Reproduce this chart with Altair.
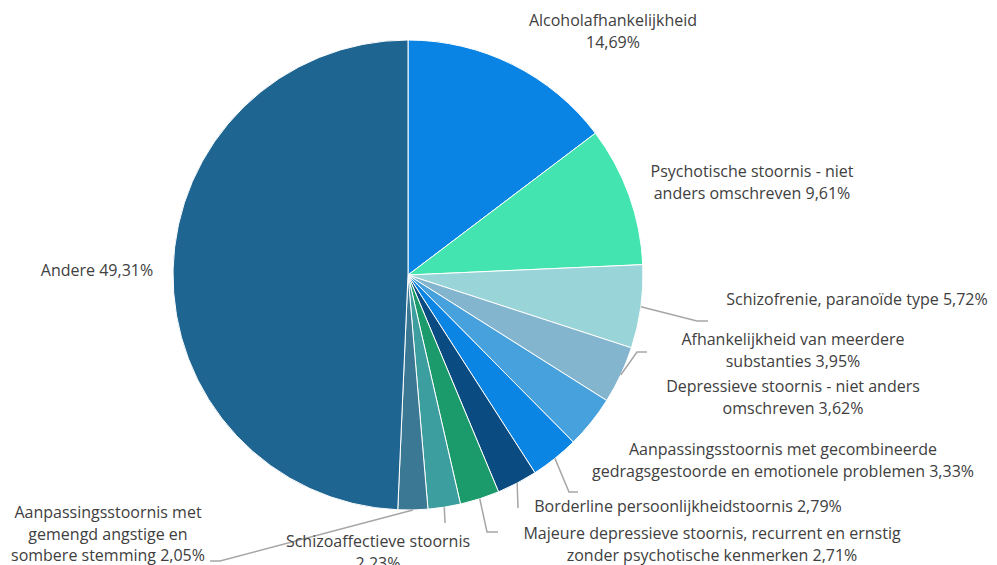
import math
import altair as alt
import pandas as pd

# ---- data ----
categories = [
    "Alcoholafhankelijkheid",
    "Psychotische stoornis - niet anders omschreven",
    "Schizofrenie, paranoïde type",
    "Afhankelijkheid van meerdere substanties",
    "Depressieve stoornis - niet anders omschreven",
    "Aanpassingsstoornis met gecombineerde gedragsgestoorde en emotionele problemen",
    "Borderline persoonlijkheidstoornis",
    "Majeure depressieve stoornis, recurrent en ernstig zonder psychotische kenmerken",
    "Schizoaffectieve stoornis",
    "Aanpassingsstoornis met gemengd angstige en sombere stemming",
    "Andere",
]
values = [14.69, 9.61, 5.72, 3.95, 3.62, 3.33, 2.79, 2.71, 2.23, 2.05, 49.31]
label_lines = [
    ["Alcoholafhankelijkheid", "14,69%"],
    ["Psychotische stoornis - niet", "anders omschreven 9,61%"],
    ["Schizofrenie, paranoïde type 5,72%"],
    ["Afhankelijkheid van meerdere", "substanties 3,95%"],
    ["Depressieve stoornis - niet anders", "omschreven 3,62%"],
    ["Aanpassingsstoornis met gecombineerde", "gedragsgestoorde en emotionele problemen 3,33%"],
    ["Borderline persoonlijkheidstoornis 2,79%"],
    ["Majeure depressieve stoornis, recurrent en ernstig", "zonder psychotische kenmerken  2,71%"],
    ["Schizoaffectieve stoornis", "2,23%"],
    ["Aanpassingsstoornis met", "gemengd angstige en", "sombere stemming 2,05%"],
    ["Andere 49,31%"],
]
colors = ["#0A84E4", "#43E4AF", "#98D4D8", "#84B5CF", "#47A1DD", "#0B85E3",
          "#0A4C82", "#1B9A6B", "#3C9E9E", "#3A7894", "#1F6592"]

# ---- layout (chart pixel coordinates) ----
OFF = 8
CX, CY, R = 408 - OFF, 275 - OFF, 235
LINE_H = 21.5
# centre of first text line for each label
label_pos = [(613, 21), (752, 172), (857, 300), (793, 340), (793, 387), (783, 450),
             (688, 507), (712, 534), (378, 542), (108, 513), (97, 271)]
# leader line elbow/end points (None = no leader)
leaders = [None, None, [(697, 321), (708, 321)], [(637, 352), (647, 352)], None,
           [(569, 492), (578, 492)], [(518, 508)], [(487, 532), (498, 532)],
           [(445, 523)], [(220, 561), (210, 561)], None]

# ---- tables ----
pie = pd.DataFrame({"cat": categories, "value": values, "idx": list(range(len(values)))})

total = sum(values)
rows_t, rows_l = [], []
cum = 0.0
for i, v in enumerate(values):
    mid = (cum + v / 2) / total * 2 * math.pi
    cum += v
    lx, ly = label_pos[i]
    for j, line in enumerate(label_lines[i]):
        rows_t.append({"t": line, "x": lx - OFF, "y": ly - OFF + j * LINE_H})
    if leaders[i]:
        sx = CX + R * math.sin(mid)
        sy = CY - R * math.cos(mid)
        pts = [(sx, sy)] + [(px - OFF, py - OFF) for px, py in leaders[i]]
        for k, (px, py) in enumerate(pts):
            rows_l.append({"lid": i, "o": k, "x": px, "y": py})

texts = pd.DataFrame(rows_t)
lines = pd.DataFrame(rows_l)

arcs = alt.Chart(pie).mark_arc(outerRadius=R, stroke="white", strokeWidth=1).encode(
    theta=alt.Theta("value:Q", stack=True),
    order=alt.Order("idx:Q"),
    color=alt.Color("cat:N", scale=alt.Scale(domain=categories, range=colors), legend=None),
    x=alt.value(CX),
    y=alt.value(CY),
)

leader = alt.Chart(lines).mark_line(color="#A6A6A6", strokeWidth=1.5).encode(
    x=alt.X("x:Q", scale=None, axis=None),
    y=alt.Y("y:Q", scale=None, axis=None),
    detail="lid:N",
    order="o:Q",
)

text = alt.Chart(texts).mark_text(
    font="Open Sans", fontSize=16, color="#404040", align="center", baseline="middle"
).encode(
    x=alt.X("x:Q", scale=None, axis=None),
    y=alt.Y("y:Q", scale=None, axis=None),
    text="t:N",
)

chart = alt.layer(arcs, leader, text).properties(
    width=981, height=557, padding=0, autosize=alt.AutoSizeParams(type="none")
).configure_view(stroke=None)

chart.save("out.html", embed_options={"renderer": "svg", "actions": False})
